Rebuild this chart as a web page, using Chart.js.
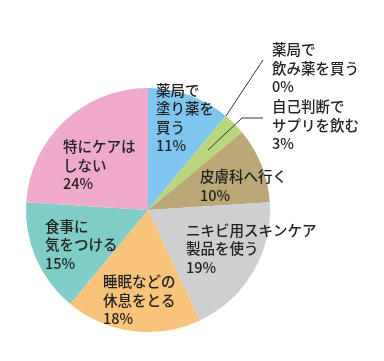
<!DOCTYPE html>
<html><head><meta charset="utf-8">
<script src="https://cdn.jsdelivr.net/npm/chart.js@4/dist/chart.umd.min.js"></script>
<style>html,body{margin:0;padding:0;background:#fff;}canvas{display:block;}</style>
</head><body>
<canvas id="c" width="384" height="361"></canvas>
<script>
const categories = ["薬局で塗り薬を買う","薬局で飲み薬を買う","自己判断でサプリを飲む","皮膚科へ行く","ニキビ用スキンケア製品を使う","睡眠などの休息をとる","食事に気をつける","特にケアはしない"];
const values = [11, 0, 3, 10, 19, 18, 15, 24];
const labelLines = [
  ["薬局で","塗り薬を","買う","11%"],
  ["薬局で","飲み薬を買う","0%"],
  ["自己判断で","サプリを飲む","3%"],
  ["皮膚科へ行く","10%"],
  ["ニキビ用スキンケア","製品を使う","19%"],
  ["睡眠などの","休息をとる","18%"],
  ["食事に","気をつける","15%"],
  ["特にケアは","しない","24%"]
];
const colors = ["#7fc6ef","#b7d57c","#b9d67f","#bca776","#cfcfd2","#f8c37a","#80cdc7","#eeaaca"];
// label anchor (left x, center y of first line) - layout only
const labelPos = [[156,90],[272,49.5],[272,106.5],[200,176.5],[186,230],[103,281.5],[45,226],[63,146.5]];
const leaders = [
  [[226,116],[263,60]],
  [[208,150],[242,118],[263,118]]
];
const labelPlugin = {
  id:'labels',
  afterDatasetsDraw(chart){
    const ctx = chart.ctx;
    ctx.save();
    ctx.strokeStyle = '#333';
    ctx.lineWidth = 1;
    leaders.forEach(pts=>{
      ctx.beginPath();
      ctx.moveTo(pts[0][0],pts[0][1]);
      for(let i=1;i<pts.length;i++) ctx.lineTo(pts[i][0],pts[i][1]);
      ctx.stroke();
    });
    ctx.fillStyle = '#222';
    ctx.font = '500 14.5px "Noto Sans CJK JP", "Noto Sans", sans-serif';
    ctx.textBaseline = 'middle';
    ctx.textAlign = 'left';
    labelLines.forEach((lines,i)=>{
      const [x,y] = labelPos[i];
      lines.forEach((t,j)=>ctx.fillText(t, x, y + j*18.5));
    });
    ctx.restore();
  }
};
new Chart(document.getElementById('c'), {
  type:'pie',
  data:{labels:categories, datasets:[{data:values, backgroundColor:colors, borderWidth:0}]},
  options:{
    responsive:false, animation:false,
    layout:{padding:{left:26,right:114,top:88,bottom:29}},
    plugins:{legend:{display:false}, tooltip:{enabled:false}}
  },
  plugins:[labelPlugin]
});
</script>
</body></html>
